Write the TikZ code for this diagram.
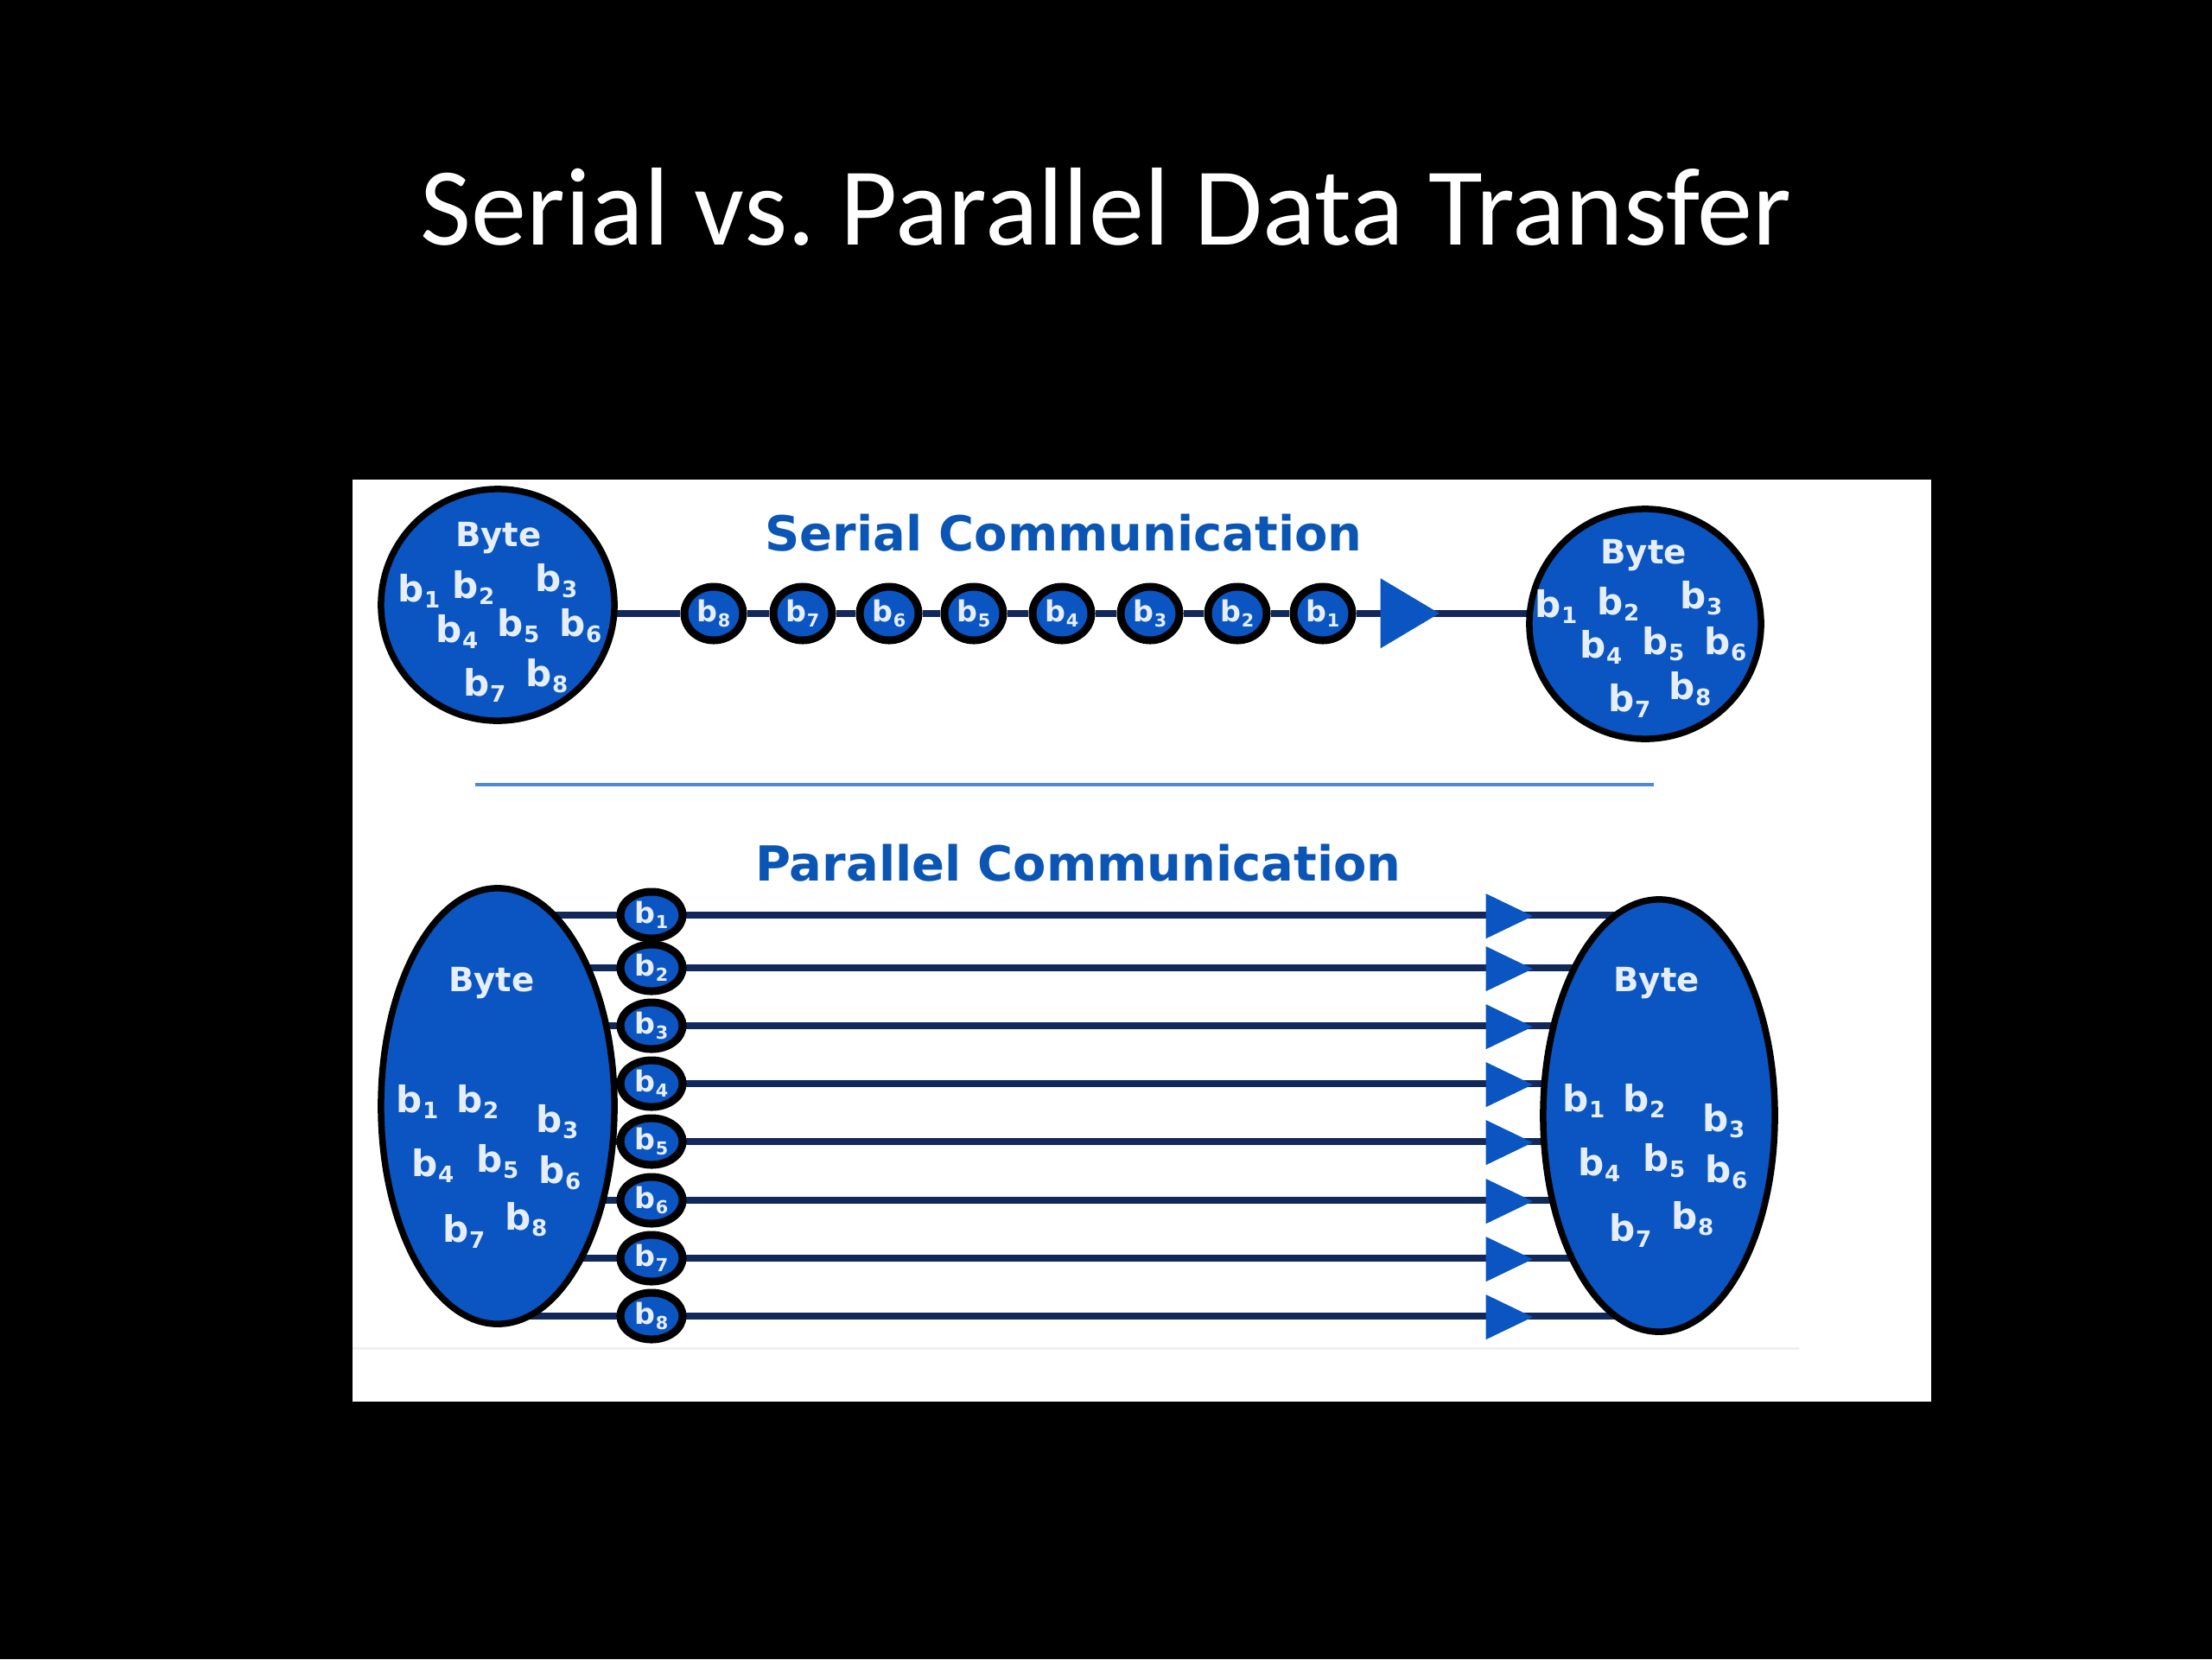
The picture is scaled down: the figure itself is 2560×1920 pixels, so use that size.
\documentclass[tikz,border=0pt]{standalone}
\usepackage{fontspec}
\setmainfont{DejaVu Sans}
\newfontfamily\titlefont{Carlito}
\usepackage{tikz}
\usetikzlibrary{shapes.geometric,backgrounds}

\definecolor{byteBlue}{HTML}{0A55C2}
\definecolor{headBlue}{HTML}{0B55B5}
\definecolor{wireNavy}{HTML}{12285A}
\definecolor{ruleBlue}{HTML}{4F8AD6}
\definecolor{bitWhite}{HTML}{E6EEF9}

\newcommand{\bitlabel}[1]{b\raisebox{-.3ex}{\scalebox{.62}{#1}}}
\def\serialbitsA{1/-91/-16,2/-28/-20,3/68/-28,4/-47/31,5/24/24,6/96/24,7/-15/93,8/57/82}
\def\serialbitsB{1/-106/-23,2/-34/-26,3/62/-33,4/-54/24,5/18/20,6/90/20,7/-21/86,8/49/72}
\def\parallelbits{1/-93/-5,2/-23/-5,3/69/18,4/-75/69,5/0/64,6/72/77,7/-39/145,8/33/131}

\tikzset{
  byte/.style={ellipse,draw=black,line width=.075cm,fill=byteBlue,inner sep=0},
  bead/.style={ellipse,draw=black,line width=.09cm,fill=byteBlue,inner sep=0,text=bitWhite,
    font=\fontsize{9.5}{9}\selectfont\bfseries},
  bit/.style={text=bitWhite,inner sep=0,font=\fontsize{12}{12}\selectfont\bfseries},
  bytename/.style={bit,font=\fontsize{11}{12}\selectfont\bfseries},
  wire/.style={draw=wireNavy,line width=.075cm},
  tip/.style={isosceles triangle,isosceles triangle stretches,fill=byteBlue,inner sep=0,
    anchor=left corner,shape border rotate=0},
  head/.style={text=headBlue,font=\fontsize{15.9}{16}\selectfont\bfseries},
}

\begin{document}
\begin{tikzpicture}[x=.01cm,y=-.01cm]
  \useasboundingbox (0,0) rectangle (2560,1920);
  \begin{pgfonlayer}{background}
    \fill[black] (0,0) rectangle (2560,1920);
    \fill[white] (408,555) rectangle (2235,1622);
    \draw[draw=black!6,line width=.03cm] (408,1560) -- (2082,1560);
  \end{pgfonlayer}

  \node[text=white,font=\fontsize{36.5}{38}\selectfont\titlefont\frenchspacing] (title) at (1280,239) {Serial vs. Parallel Data Transfer};
  \node[head] (serialHead) at (1231,617) {Serial Communication};
  \node[head] (parallelHead) at (1248,999) {Parallel Communication};

  % serial
  \node[byte,minimum width=2.7cm,minimum height=2.68cm] (serialSrc) at (576,700) {};
  \node[byte,minimum width=2.68cm,minimum height=2.66cm] (serialDst) at (1904,722) {};
  \node[bytename] (serialSrcByte) at (577,623) {Byte};
  \node[bytename] (serialDstByte) at (1902,643) {Byte};
  \foreach \n/\dx/\dy in \serialbitsA
    \node[bit] (ss\n) at (576+\dx,700+\dy) {\bitlabel{\n}};
  \foreach \n/\dx/\dy in \serialbitsB
    \node[bit] (sd\n) at (1907+\dx,725+\dy) {\bitlabel{\n}};

  \foreach \n/\x in {8/826,7/929,6/1029,5/1127,4/1229,3/1331,2/1432,1/1531}
    \node[bead,minimum width=.68cm,minimum height=.62cm] (sb\n) at (\x,710) {\bitlabel{\n}};
  \node[tip,minimum height=.68cm,minimum width=.81cm] (serialTip) at (1597,668) {};
  \coordinate (serialEnd) at (serialDst.center |- sb1);

  \begin{pgfonlayer}{background}
    \draw[wire] (serialSrc.center |- sb8) -- (sb8);
    \draw[wire] (sb8) -- (sb7);
    \draw[wire] (sb7) -- (sb6);
    \draw[wire] (sb6) -- (sb5);
    \draw[wire] (sb5) -- (sb4);
    \draw[wire] (sb4) -- (sb3);
    \draw[wire] (sb3) -- (sb2);
    \draw[wire] (sb2) -- (sb1);
    \draw[wire] (sb1) -- (serialEnd);
  \end{pgfonlayer}

  \coordinate (ruleA) at (550,908);
  \coordinate (ruleB) at (1914,908);
  \draw[draw=ruleBlue,line width=.04cm] (ruleA) -- (ruleB);

  % parallel
  \node[byte,minimum width=2.7cm,minimum height=5.04cm] (parSrc) at (576,1280) {};
  \node[byte,minimum width=2.68cm,minimum height=5cm] (parDst) at (1920,1291) {};
  \node[bytename] (parSrcByte) at (569,1138) {Byte};
  \node[bytename] (parDstByte) at (1917,1138) {Byte};
  \foreach \n/\dx/\dy in \parallelbits {
    \node[bit] (ps\n) at (576+\dx,1280+\dy) {\bitlabel{\n}};
    \node[bit] (pd\n) at (1926+\dx,1279+\dy) {\bitlabel{\n}};
  }

  \foreach \n/\y in {1/1059,2/1120,3/1187,4/1254,5/1321,6/1389,7/1456,8/1523} {
    \node[bead,minimum width=.72cm,minimum height=.54cm] (pb\n) at (754,\y) {\bitlabel{\n}};
    \node[tip,minimum height=.54cm,minimum width=.52cm] (pt\n) at (1719,\y-26) {};
    \begin{pgfonlayer}{background}
      \draw[wire] (parSrc.center |- pb\n) -- (parDst.center |- pb\n);
    \end{pgfonlayer}
  }
\end{tikzpicture}
\end{document}
